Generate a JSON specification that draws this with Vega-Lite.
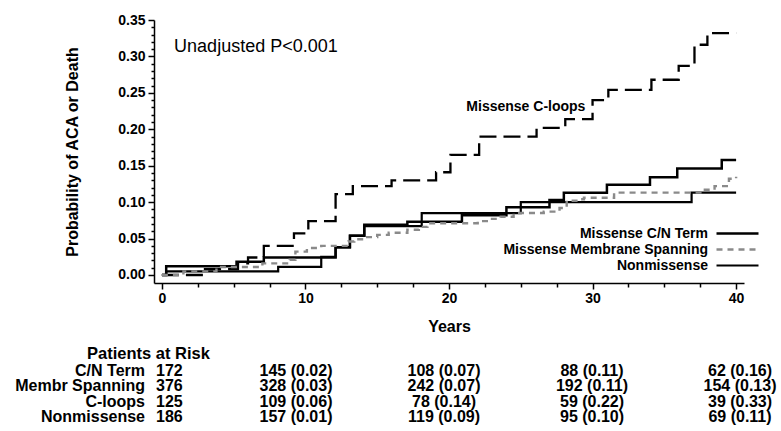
{
  "$schema": "https://vega.github.io/schema/vega-lite/v6.json",
  "background": "white",
  "padding": {"left": 15, "top": 13, "right": 0, "bottom": 0},
  "spacing": 12,
  "config": {
    "view": {"stroke": null},
    "font": "Liberation Sans",
    "axis": {"labelOverlap": false},
    "text": {"font": "Liberation Sans", "color": "black"}
  },
  "datasets": {
    "curves": [
      {"series": "Missense C-loops", "year": 0, "prob": 0},
      {"series": "Missense C-loops", "year": 3.0, "prob": 0.008},
      {"series": "Missense C-loops", "year": 5.3, "prob": 0.016},
      {"series": "Missense C-loops", "year": 6.0, "prob": 0.024},
      {"series": "Missense C-loops", "year": 7.1, "prob": 0.040},
      {"series": "Missense C-loops", "year": 9.2, "prob": 0.057},
      {"series": "Missense C-loops", "year": 10.2, "prob": 0.074},
      {"series": "Missense C-loops", "year": 12.1, "prob": 0.111},
      {"series": "Missense C-loops", "year": 13.3, "prob": 0.122},
      {"series": "Missense C-loops", "year": 16.0, "prob": 0.130},
      {"series": "Missense C-loops", "year": 19.1, "prob": 0.141},
      {"series": "Missense C-loops", "year": 20.1, "prob": 0.165},
      {"series": "Missense C-loops", "year": 22.1, "prob": 0.190},
      {"series": "Missense C-loops", "year": 26.1, "prob": 0.202},
      {"series": "Missense C-loops", "year": 28.1, "prob": 0.214},
      {"series": "Missense C-loops", "year": 30.0, "prob": 0.240},
      {"series": "Missense C-loops", "year": 31.1, "prob": 0.254},
      {"series": "Missense C-loops", "year": 34.1, "prob": 0.268},
      {"series": "Missense C-loops", "year": 36.0, "prob": 0.287},
      {"series": "Missense C-loops", "year": 37.1, "prob": 0.316},
      {"series": "Missense C-loops", "year": 38.0, "prob": 0.332},
      {"series": "Missense C-loops", "year": 40.0, "prob": 0.332},
      {"series": "Missense C/N Term", "year": 0, "prob": 0},
      {"series": "Missense C/N Term", "year": 0.3, "prob": 0.012},
      {"series": "Missense C/N Term", "year": 5.2, "prob": 0.018},
      {"series": "Missense C/N Term", "year": 7.1, "prob": 0.024},
      {"series": "Missense C/N Term", "year": 12.1, "prob": 0.038},
      {"series": "Missense C/N Term", "year": 13.1, "prob": 0.054},
      {"series": "Missense C/N Term", "year": 14.1, "prob": 0.069},
      {"series": "Missense C/N Term", "year": 17.1, "prob": 0.073},
      {"series": "Missense C/N Term", "year": 20.9, "prob": 0.082},
      {"series": "Missense C/N Term", "year": 24.0, "prob": 0.093},
      {"series": "Missense C/N Term", "year": 27.0, "prob": 0.103},
      {"series": "Missense C/N Term", "year": 28.0, "prob": 0.113},
      {"series": "Missense C/N Term", "year": 31.0, "prob": 0.124},
      {"series": "Missense C/N Term", "year": 34.0, "prob": 0.134},
      {"series": "Missense C/N Term", "year": 35.9, "prob": 0.146},
      {"series": "Missense C/N Term", "year": 39.0, "prob": 0.158},
      {"series": "Missense C/N Term", "year": 40.0, "prob": 0.158},
      {"series": "Nonmissense", "year": 0, "prob": 0},
      {"series": "Nonmissense", "year": 0.3, "prob": 0.005},
      {"series": "Nonmissense", "year": 8.1, "prob": 0.011},
      {"series": "Nonmissense", "year": 11.1, "prob": 0.025},
      {"series": "Nonmissense", "year": 12.1, "prob": 0.038},
      {"series": "Nonmissense", "year": 13.1, "prob": 0.054},
      {"series": "Nonmissense", "year": 14.1, "prob": 0.067},
      {"series": "Nonmissense", "year": 18.1, "prob": 0.085},
      {"series": "Nonmissense", "year": 25.0, "prob": 0.100},
      {"series": "Nonmissense", "year": 36.9, "prob": 0.113},
      {"series": "Nonmissense", "year": 40.0, "prob": 0.113},
      {"series": "Missense Membrane Spanning", "year": 0, "prob": 0},
      {"series": "Missense Membrane Spanning", "year": 1.5, "prob": 0.005},
      {"series": "Missense Membrane Spanning", "year": 3.8, "prob": 0.011},
      {"series": "Missense Membrane Spanning", "year": 7.0, "prob": 0.016},
      {"series": "Missense Membrane Spanning", "year": 8.9, "prob": 0.021},
      {"series": "Missense Membrane Spanning", "year": 9.3, "prob": 0.032},
      {"series": "Missense Membrane Spanning", "year": 10.1, "prob": 0.037},
      {"series": "Missense Membrane Spanning", "year": 11.1, "prob": 0.040},
      {"series": "Missense Membrane Spanning", "year": 13.0, "prob": 0.046},
      {"series": "Missense Membrane Spanning", "year": 13.4, "prob": 0.049},
      {"series": "Missense Membrane Spanning", "year": 14.3, "prob": 0.052},
      {"series": "Missense Membrane Spanning", "year": 15.0, "prob": 0.055},
      {"series": "Missense Membrane Spanning", "year": 15.8, "prob": 0.058},
      {"series": "Missense Membrane Spanning", "year": 17.1, "prob": 0.062},
      {"series": "Missense Membrane Spanning", "year": 17.9, "prob": 0.066},
      {"series": "Missense Membrane Spanning", "year": 18.5, "prob": 0.071},
      {"series": "Missense Membrane Spanning", "year": 22.0, "prob": 0.074},
      {"series": "Missense Membrane Spanning", "year": 22.8, "prob": 0.077},
      {"series": "Missense Membrane Spanning", "year": 23.6, "prob": 0.080},
      {"series": "Missense Membrane Spanning", "year": 24.5, "prob": 0.085},
      {"series": "Missense Membrane Spanning", "year": 26.6, "prob": 0.087},
      {"series": "Missense Membrane Spanning", "year": 27.7, "prob": 0.092},
      {"series": "Missense Membrane Spanning", "year": 28.2, "prob": 0.102},
      {"series": "Missense Membrane Spanning", "year": 29.1, "prob": 0.104},
      {"series": "Missense Membrane Spanning", "year": 29.4, "prob": 0.106},
      {"series": "Missense Membrane Spanning", "year": 31.5, "prob": 0.113},
      {"series": "Missense Membrane Spanning", "year": 37.6, "prob": 0.117},
      {"series": "Missense Membrane Spanning", "year": 38.5, "prob": 0.122},
      {"series": "Missense Membrane Spanning", "year": 39.5, "prob": 0.132},
      {"series": "Missense Membrane Spanning", "year": 40.0, "prob": 0.135}
    ],
    "risk": [
      {"group": "C/N Term", "year": 0, "label": "172"},
      {"group": "C/N Term", "year": 10, "label": "145 (0.02)"},
      {"group": "C/N Term", "year": 20, "label": "108 (0.07)"},
      {"group": "C/N Term", "year": 30, "label": "88 (0.11)"},
      {"group": "C/N Term", "year": 40, "label": "62 (0.16)"},
      {"group": "Membr Spanning", "year": 0, "label": "376"},
      {"group": "Membr Spanning", "year": 10, "label": "328 (0.03)"},
      {"group": "Membr Spanning", "year": 20, "label": "242 (0.07)"},
      {"group": "Membr Spanning", "year": 30, "label": "192 (0.11)"},
      {"group": "Membr Spanning", "year": 40, "label": "154 (0.13)"},
      {"group": "C-loops", "year": 0, "label": "125"},
      {"group": "C-loops", "year": 10, "label": "109 (0.06)"},
      {"group": "C-loops", "year": 20, "label": "78 (0.14)"},
      {"group": "C-loops", "year": 30, "label": "59 (0.22)"},
      {"group": "C-loops", "year": 40, "label": "39 (0.33)"},
      {"group": "Nonmissense", "year": 0, "label": "186"},
      {"group": "Nonmissense", "year": 10, "label": "157 (0.01)"},
      {"group": "Nonmissense", "year": 20, "label": "119 (0.09)"},
      {"group": "Nonmissense", "year": 30, "label": "95 (0.10)"},
      {"group": "Nonmissense", "year": 40, "label": "69 (0.11)"}
    ]
  },
  "vconcat": [
    {
      "width": 590,
      "height": 263,
      "layer": [
        {
          "data": {"name": "curves"},
          "mark": {"type": "line", "interpolate": "step-after"},
          "encoding": {
            "x": {
              "field": "year", "type": "quantitative",
              "scale": {"domain": [-0.55, 40.55], "nice": false, "zero": false},
              "axis": {
                "title": "Years", "titleFontSize": 16, "titleFontWeight": "bold", "titleColor": "black", "titlePadding": 13,
                "values": [0, 2.5, 5, 7.5, 10, 12.5, 15, 17.5, 20, 22.5, 25, 27.5, 30, 32.5, 35, 37.5, 40],
                "tickCount": 100,
                "labelExpr": "datum.value % 10 == 0 ? format(datum.value, 'd') : ''",
                "labelFontSize": 14, "labelFontWeight": "bold", "labelColor": "black", "labelPadding": 2, "labelOverlap": false,
                "tickSize": {"condition": {"test": "datum.value % 10 == 0", "value": 6}, "value": 4},
                "tickColor": "black", "tickWidth": 1.5, "domainColor": "black", "domainWidth": 1.5, "grid": false
              }
            },
            "y": {
              "field": "prob", "type": "quantitative",
              "scale": {"domain": [-0.011, 0.35], "nice": false, "zero": false},
              "axis": {
                "title": "Probability of ACA or Death", "titleFontSize": 16, "titleFontWeight": "bold", "titleColor": "black", "titlePadding": 37,
                "values": [0, 0.01, 0.02, 0.03, 0.04, 0.05, 0.06, 0.07, 0.08, 0.09, 0.1, 0.11, 0.12, 0.13, 0.14, 0.15, 0.16, 0.17, 0.18, 0.19, 0.2, 0.21, 0.22, 0.23, 0.24, 0.25, 0.26, 0.27, 0.28, 0.29, 0.3, 0.31, 0.32, 0.33, 0.34, 0.35],
                "tickCount": 100,
                "labelExpr": "indexof(['0.00','0.05','0.10','0.15','0.20','0.25','0.30','0.35'], format(datum.value, '.2f')) >= 0 ? format(datum.value, '.2f') : ''",
                "labelFontSize": 14, "labelFontWeight": "bold", "labelColor": "black", "labelPadding": 3, "labelOverlap": false,
                "tickSize": {"condition": {"test": "indexof(['0.00','0.05','0.10','0.15','0.20','0.25','0.30','0.35'], format(datum.value, '.2f')) >= 0", "value": 6}, "value": 3},
                "tickColor": "black", "tickWidth": 1.5, "domainColor": "black", "domainWidth": 1.5, "grid": false
              }
            },
            "color": {
              "field": "series", "type": "nominal",
              "scale": {
                "domain": ["Missense C/N Term", "Missense Membrane Spanning", "Missense C-loops", "Nonmissense"],
                "range": ["#000000", "#8a8a8a", "#000000", "#000000"]
              },
              "legend": {
                "values": ["Missense C/N Term", "Missense Membrane Spanning", "Nonmissense"],
                "orient": "none", "legendX": 575, "legendY": 205, "title": null, "padding": 0,
                "symbolType": "M-3,0H3", "symbolSize": 196, "rowPadding": 0,
                "labelAlign": "right", "labelOffset": -38, "labelFontSize": 14, "labelFontWeight": "bold",
                "labelColor": "black", "labelLimit": 0,
                "encode": {"symbols": {"update": {"strokeWidth": {"signal": "datum.value === 'Nonmissense' ? 0.9 : 2.5"}}}}
              }
            },
            "strokeDash": {
              "field": "series", "type": "nominal",
              "scale": {
                "domain": ["Missense C/N Term", "Missense Membrane Spanning", "Missense C-loops", "Nonmissense"],
                "range": [[1, 0], [6, 5], [17, 7], [1, 0]]
              }
            },
            "strokeWidth": {
              "field": "series", "type": "nominal",
              "scale": {
                "domain": ["Missense C/N Term", "Missense Membrane Spanning", "Missense C-loops", "Nonmissense"],
                "range": [2.5, 2.2, 3.2, 0.9]
              }
            }
          }
        },
        {
          "data": {"values": [{"note": "Unadjusted P<0.001", "year": 0.85, "prob": 0.313}]},
          "mark": {"type": "text", "align": "left", "baseline": "middle", "fontSize": 18},
          "encoding": {
            "x": {"field": "year", "type": "quantitative"},
            "y": {"field": "prob", "type": "quantitative"},
            "text": {"field": "note"}
          }
        },
        {
          "data": {"values": [{"note": "Missense C-loops", "year": 29.5, "prob": 0.231}]},
          "mark": {"type": "text", "align": "right", "baseline": "middle", "fontSize": 14, "fontWeight": "bold"},
          "encoding": {
            "x": {"field": "year", "type": "quantitative"},
            "y": {"field": "prob", "type": "quantitative"},
            "text": {"field": "note"}
          }
        }
      ]
    },
    {
      "width": 590,
      "height": 62,
      "title": {"text": "Patients at Risk", "anchor": "start", "frame": "group", "dx": -67, "fontSize": 16.5, "fontWeight": "bold", "color": "black", "offset": 0},
      "data": {"name": "risk"},
      "encoding": {
        "x": {"field": "year", "type": "quantitative", "scale": {"domain": [0.405, 40.27], "nice": false, "zero": false}, "axis": null},
        "y": {"field": "group", "type": "nominal", "sort": ["C/N Term", "Membr Spanning", "C-loops", "Nonmissense"], "scale": {"type": "point", "padding": 0.5}, "axis": null}
      },
      "layer": [
        {
          "transform": [{"filter": "datum.year == 0"}],
          "mark": {"type": "text", "align": "right", "baseline": "middle", "dx": -3, "fontSize": 16, "fontWeight": "bold"},
          "encoding": {"text": {"field": "group"}}
        },
        {
          "transform": [{"filter": "datum.year == 0"}],
          "mark": {"type": "text", "align": "left", "baseline": "middle", "dx": 8, "fontSize": 16, "fontWeight": "bold"},
          "encoding": {"text": {"field": "label"}}
        },
        {
          "transform": [{"filter": "datum.year > 0"}],
          "mark": {"type": "text", "align": "center", "baseline": "middle", "fontSize": 16, "fontWeight": "bold"},
          "encoding": {"text": {"field": "label"}}
        }
      ]
    }
  ]
}
